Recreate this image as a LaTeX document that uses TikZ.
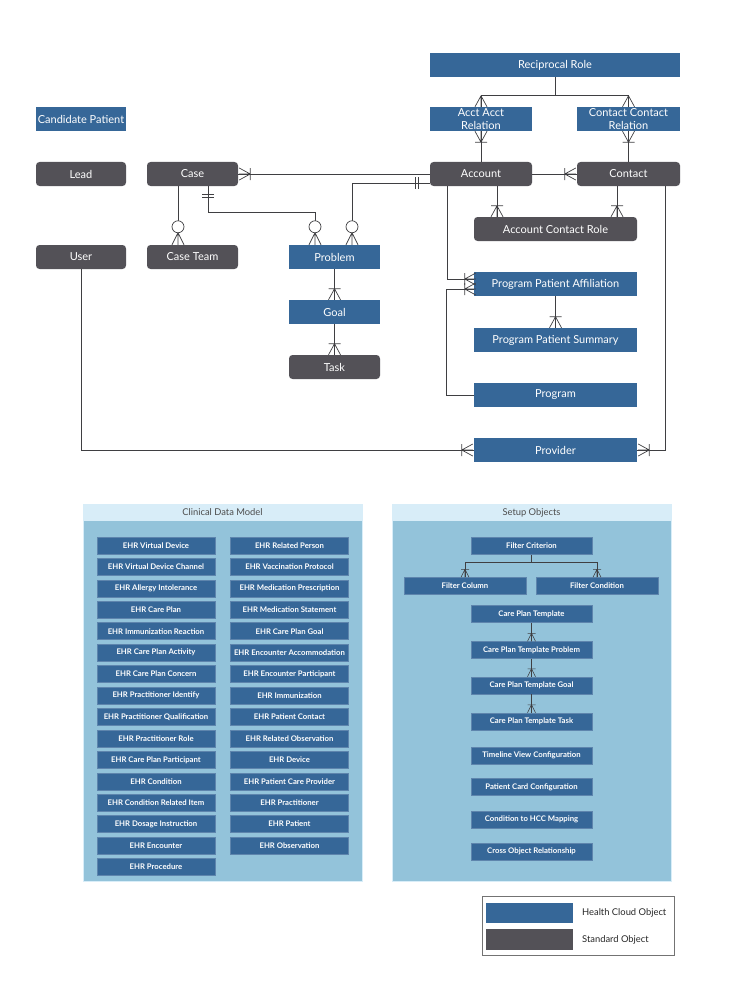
\documentclass[tikz,border=0pt]{standalone}
\usepackage{fontspec}
\setmainfont{Lato}
\usetikzlibrary{positioning,calc}

\definecolor{hcblue}{HTML}{366798}
\definecolor{sogray}{HTML}{535157}
\definecolor{panelbg}{HTML}{93C3DA}
\definecolor{panelhd}{HTML}{D8EDF8}
\definecolor{linegray}{HTML}{3F3F42}

\tikzset{
  link/.style={draw=linegray, line width=0.6pt},
  slink/.style={draw=linegray, line width=0.45pt},
  obj/.style={minimum height=0.72cm, inner sep=1pt, text=white, align=center,
    font=\fontsize{9.4}{10.2}\selectfont},
  hc/.style={obj, fill=hcblue, minimum width=#1*0.03cm},
  so/.style={obj, fill=sogray, rounded corners=3pt, minimum width=#1*0.03cm},
  ehr/.style={fill=hcblue, draw=hcblue!80!white, line width=0.4pt, text=white,
    minimum width=3.54cm, minimum height=0.51cm, inner sep=0pt,
    font=\fontsize{6.6}{7}\selectfont\bfseries},
  panel/.style={fill=panelbg, draw=panelhd, line width=0.5pt,
    minimum width=8.37cm, minimum height=11.31cm},
  panelhead/.style={fill=panelhd, minimum width=8.37cm, minimum height=0.51cm,
    inner sep=0pt, text=black!70, font=\fontsize{8}{9}\selectfont},
  crow/.pic={\draw[link] (0,0) -- (11,-6) (0,0) -- (11,0) (0,0) -- (11,6);},
  crowbar/.pic={\draw[link] (0,0) -- (11,-6) (0,0) -- (11,0) (0,0) -- (11,6) (0,-6) -- (0,6);},
  crowring/.pic={\draw[link] (0,0) -- (12,-6) (0,0) -- (12,0) (0,0) -- (12,6);
    \draw[link, fill=white] (-6,0) circle[radius=0.18cm];},
  onebar/.pic={\draw[link] (0,-6) -- (0,6) (3,-6) -- (3,6);},
  scrow/.pic={\draw[slink] (0,0) -- (8,-4) (0,0) -- (8,0) (0,0) -- (8,4) (0,-4) -- (0,4);},
}

\begin{document}
\begin{tikzpicture}[x=0.03cm, y=-0.03cm]
  \useasboundingbox (0,0) rectangle (732,985);

  % objects
  \node[hc=250] (recip) at (555,65) {Reciprocal Role};
  \node[hc=102, font=\fontsize{9.4}{11.2}\selectfont] (aar) at (481,119) {Acct Acct\\Relation};
  \node[hc=103, font=\fontsize{9.4}{11.2}\selectfont] (ccr) at (628.5,119) {Contact Contact\\Relation};
  \node[hc=90] (cand) at (81,119) {Candidate Patient};
  \node[so=90] (lead) at (81,174) {Lead};
  \node[so=91] (case) at (192.5,174) {Case};
  \node[so=102] (acct) at (481,174) {Account};
  \node[so=103] (cont) at (628.5,174) {Contact};
  \node[so=90] (user) at (81,257) {User};
  \node[so=91] (team) at (192.5,257) {Case Team};
  \node[hc=91] (prob) at (334.5,257) {Problem};
  \node[so=163] (acr) at (555.5,229) {Account Contact Role};
  \node[hc=163] (ppa) at (555.5,284) {Program Patient Affiliation};
  \node[hc=91] (goal) at (334.5,312) {Goal};
  \node[hc=163] (pps) at (555.5,340) {Program Patient Summary};
  \node[so=91] (task) at (334.5,367) {Task};
  \node[hc=163] (prog) at (555.5,395) {Program};
  \node[hc=163] (prov) at (555.5,450) {Provider};

  % reciprocal role
  \draw[link] (recip.south) -- ++(0,19);
  \draw[link] (aar.north) -- ++(0,-11) -| (ccr.north);
  \pic[rotate=-90] at ($(aar.north)+(0,-11)$) {crow};
  \pic[rotate=-90] at ($(ccr.north)+(0,-11)$) {crow};
  \draw[link] (aar) -- (acct);
  \draw[link] (ccr) -- (cont);
  \pic[rotate=90] at ($(aar.south)+(0,11)$) {crowbar};
  \pic[rotate=90] at ($(ccr.south)+(0,11)$) {crowbar};

  % case, account, contact
  \draw[link] (case.east) -- (acct.west);
  \pic[rotate=180] at ($(case.east)+(12,0)$) {crowbar};
  \draw[link] (acct) -- (cont);
  \pic at ($(cont.west)+(-12,0)$) {crowbar};

  \draw[link] ($(case.south)+(-14.5,0)$) -- ($(team.north)+(-14.5,-12)$);
  \pic[rotate=-90] at ($(team.north)+(-14.5,-12)$) {crowring};
  \draw[link] ($(case.south)+(15.5,0)$) -- ++(0,26) -| ($(prob.north)+(-19.5,-12)$);
  \pic[rotate=-90] at ($(case.south)+(15.5,8)$) {onebar};
  \pic[rotate=-90] at ($(prob.north)+(-19.5,-12)$) {crowring};
  \draw[link] ($(prob.north)+(17.5,-12)$) |- ($(acct.west)+(0,9)$);
  \pic at ($(acct.west)+(-14,9)$) {onebar};
  \pic[rotate=-90] at ($(prob.north)+(17.5,-12)$) {crowring};

  \draw[link] (prob) -- (goal);
  \pic[rotate=-90] at ($(goal.north)+(0,-11)$) {crowbar};
  \draw[link] (goal) -- (task);
  \pic[rotate=-90] at ($(task.north)+(0,-11)$) {crowbar};

  \draw[link] ($(acct.south)+(16,0)$) coordinate (a1) -- (a1 |- acr.north);
  \pic[rotate=-90] at ($(a1 |- acr.north)+(0,-11)$) {crowbar};
  \draw[link] ($(cont.south)+(-11.5,0)$) coordinate (c1) -- (c1 |- acr.north);
  \pic[rotate=-90] at ($(c1 |- acr.north)+(0,-11)$) {crowbar};

  % program objects
  \draw[link] ($(acct.south)+(-34,0)$) |- ($(ppa.west)+(0,-5)$);
  \pic at ($(ppa.west)+(-9,-5)$) {crowbar};
  \draw[link] (prog.west) -| ($(ppa.west)+(-27,5)$) -- ($(ppa.west)+(0,5)$);
  \pic at ($(ppa.west)+(-9,5)$) {crowbar};
  \draw[link] (ppa) -- (pps);
  \pic[rotate=-90] at ($(pps.north)+(0,-11)$) {crowbar};

  % provider
  \draw[link] ($(cont.south)+(36.5,0)$) |- (prov.east);
  \pic[rotate=180] at ($(prov.east)+(12,0)$) {crowbar};
  \draw[link] (user.south) |- (prov.west);
  \pic at ($(prov.west)+(-12,0)$) {crowbar};

  % clinical data model
  \node[panel] (cdm) at (222.5,692.5) {};
  \node[panelhead, anchor=north] (cdmhead) at (cdm.north) {Clinical Data Model};
  \foreach \t [count=\i] in {EHR Virtual Device, EHR Virtual Device Channel,
      EHR Allergy Intolerance, EHR Care Plan, EHR Immunization Reaction,
      EHR Care Plan Activity, EHR Care Plan Concern, EHR Practitioner Identify,
      EHR Practitioner Qualification, EHR Practitioner Role,
      EHR Care Plan Participant, EHR Condition, EHR Condition Related Item,
      EHR Dosage Instruction, EHR Encounter, EHR Procedure}
    \node[ehr] (left\i) at (156,{545.5+(\i-1)*21.43}) {\t};
  \foreach \t [count=\i] in {EHR Related Person, EHR Vaccination Protocol,
      EHR Medication Prescription, EHR Medication Statement, EHR Care Plan Goal,
      EHR Encounter Accommodation, EHR Encounter Participant, EHR Immunization,
      EHR Patient Contact, EHR Related Observation, EHR Device,
      EHR Patient Care Provider, EHR Practitioner, EHR Patient, EHR Observation}
    \node[ehr] (right\i) at (289.5,{545.5+(\i-1)*21.43}) {\t};

  % setup objects
  \node[panel] (setup) at (531.5,692.5) {};
  \node[panelhead, anchor=north] (setuphead) at (setup.north) {Setup Objects};
  \node[ehr, minimum width=3.63cm] (fcrit) at (531.5,546) {Filter Criterion};
  \node[ehr, minimum width=3.66cm] (fcol) at (465,586) {Filter Column};
  \node[ehr, minimum width=3.66cm] (fcond) at (597,586) {Filter Condition};
  \node[ehr, minimum width=3.63cm] (cpt) at (531.5,614) {Care Plan Template};
  \node[ehr, minimum width=3.63cm] (cptp) at (531.5,650) {Care Plan Template Problem};
  \node[ehr, minimum width=3.63cm] (cptg) at (531.5,685.5) {Care Plan Template Goal};
  \node[ehr, minimum width=3.63cm] (cptt) at (531.5,721.5) {Care Plan Template Task};
  \node[ehr, minimum width=3.63cm] (tvc) at (531.5,755.5) {Timeline View Configuration};
  \node[ehr, minimum width=3.63cm] (pcc) at (531.5,787) {Patient Card Configuration};
  \node[ehr, minimum width=3.63cm] (hcc) at (531.5,819.5) {Condition to HCC Mapping};
  \node[ehr, minimum width=3.63cm] (cor) at (531.5,851.5) {Cross Object Relationship};

  \draw[slink] (fcrit.south) -- ++(0,8);
  \draw[slink] (fcol.north) -- ++(0,-15) -| (fcond.north);
  \pic[rotate=-90] at ($(fcol.north)+(0,-8)$) {scrow};
  \pic[rotate=-90] at ($(fcond.north)+(0,-8)$) {scrow};
  \draw[slink] (cpt) -- (cptp);
  \pic[rotate=-90] at ($(cptp.north)+(0,-8)$) {scrow};
  \draw[slink] (cptp) -- (cptg);
  \pic[rotate=-90] at ($(cptg.north)+(0,-8)$) {scrow};
  \draw[slink] (cptg) -- (cptt);
  \pic[rotate=-90] at ($(cptt.north)+(0,-8)$) {scrow};

  % legend
  \draw[black!55, line width=0.5pt] (482,896) rectangle (674,955);
  \fill[hcblue] (486,903) rectangle (573,923);
  \fill[sogray] (486,929) rectangle (573,950);
  \node[anchor=west, font=\fontsize{8}{9}\selectfont, text=black!85] (hclabel) at (578,913) {Health Cloud Object};
  \node[anchor=west, font=\fontsize{8}{9}\selectfont, text=black!85] (solabel) at (578,939.5) {Standard Object};
\end{tikzpicture}
\end{document}
